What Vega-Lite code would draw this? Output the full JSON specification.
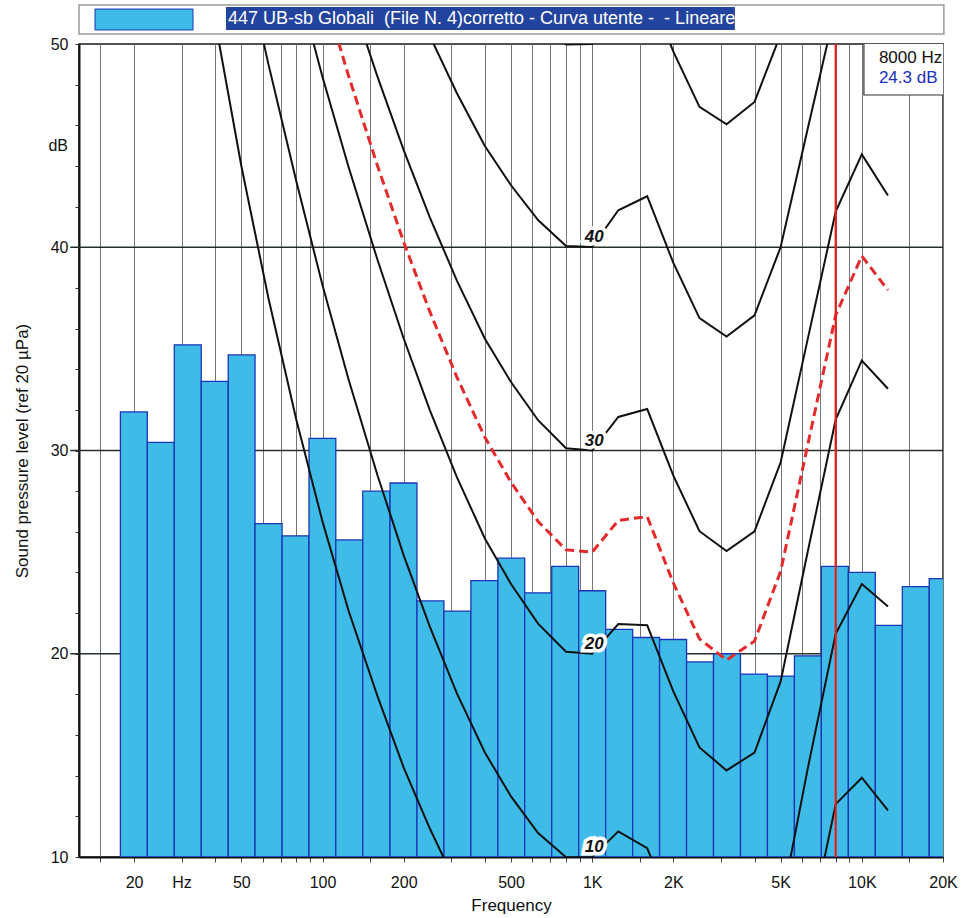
{
  "$schema": "https://vega.github.io/schema/vega-lite/v6.json",
  "width": 864,
  "height": 813,
  "autosize": {"type": "none"},
  "padding": {"left": 79, "top": 44, "right": 23, "bottom": 61},
  "background": "white",
  "config": {
    "font": "Liberation Sans",
    "view": {"stroke": "#1a1a1a", "strokeWidth": 1.5}
  },
  "datasets": {
    "hgrid": [{"db": 20}, {"db": 30}, {"db": 40}],
    "units": [{"u": "dB", "db": 45}],
    "bands": [
      {"f": 20, "lo": 17.8, "hi": 22.4, "db": 31.9},
      {"f": 25, "lo": 22.4, "hi": 28.2, "db": 30.4},
      {"f": 31.5, "lo": 28.2, "hi": 35.5, "db": 35.2},
      {"f": 40, "lo": 35.5, "hi": 44.7, "db": 33.4},
      {"f": 50, "lo": 44.7, "hi": 56.2, "db": 34.7},
      {"f": 63, "lo": 56.2, "hi": 70.8, "db": 26.4},
      {"f": 80, "lo": 70.8, "hi": 89.1, "db": 25.8},
      {"f": 100, "lo": 89.1, "hi": 112, "db": 30.6},
      {"f": 125, "lo": 112, "hi": 141, "db": 25.6},
      {"f": 160, "lo": 141, "hi": 178, "db": 28.0},
      {"f": 200, "lo": 178, "hi": 224, "db": 28.4},
      {"f": 250, "lo": 224, "hi": 282, "db": 22.6},
      {"f": 315, "lo": 282, "hi": 355, "db": 22.1},
      {"f": 400, "lo": 355, "hi": 447, "db": 23.6},
      {"f": 500, "lo": 447, "hi": 562, "db": 24.7},
      {"f": 630, "lo": 562, "hi": 708, "db": 23.0},
      {"f": 800, "lo": 708, "hi": 891, "db": 24.3},
      {"f": 1000, "lo": 891, "hi": 1122, "db": 23.1},
      {"f": 1250, "lo": 1122, "hi": 1413, "db": 21.2},
      {"f": 1600, "lo": 1413, "hi": 1778, "db": 20.8},
      {"f": 2000, "lo": 1778, "hi": 2239, "db": 20.7},
      {"f": 2500, "lo": 2239, "hi": 2818, "db": 19.6},
      {"f": 3150, "lo": 2818, "hi": 3548, "db": 20.0},
      {"f": 4000, "lo": 3548, "hi": 4467, "db": 19.0},
      {"f": 5000, "lo": 4467, "hi": 5623, "db": 18.9},
      {"f": 6300, "lo": 5623, "hi": 7079, "db": 19.9},
      {"f": 8000, "lo": 7079, "hi": 8913, "db": 24.3},
      {"f": 10000, "lo": 8913, "hi": 11220, "db": 24.0},
      {"f": 12500, "lo": 11220, "hi": 14130, "db": 21.4},
      {"f": 16000, "lo": 14130, "hi": 17780, "db": 23.3},
      {"f": 20000, "lo": 17780, "hi": 22390, "db": 23.7}
    ],
    "black": [
      {"curve": "Tf", "f": 40, "db": 51.1}, {"curve": "Tf", "f": 50, "db": 44.0}, {"curve": "Tf", "f": 63, "db": 37.5}, {"curve": "Tf", "f": 80, "db": 31.5}, {"curve": "Tf", "f": 100, "db": 26.5}, {"curve": "Tf", "f": 125, "db": 22.1}, {"curve": "Tf", "f": 160, "db": 17.9}, {"curve": "Tf", "f": 200, "db": 14.4}, {"curve": "Tf", "f": 250, "db": 11.4}, {"curve": "Tf", "f": 315, "db": 8.6}, {"curve": "Tf", "f": 400, "db": 6.2}, {"curve": "Tf", "f": 500, "db": 4.4}, {"curve": "Tf", "f": 630, "db": 3.0}, {"curve": "Tf", "f": 800, "db": 2.2}, {"curve": "Tf", "f": 1000, "db": 2.4}, {"curve": "Tf", "f": 1250, "db": 3.5}, {"curve": "Tf", "f": 1600, "db": 1.7}, {"curve": "Tf", "f": 2000, "db": -1.3}, {"curve": "Tf", "f": 2500, "db": -4.2}, {"curve": "Tf", "f": 3150, "db": -6.0}, {"curve": "Tf", "f": 4000, "db": -5.4}, {"curve": "Tf", "f": 5000, "db": -1.5}, {"curve": "Tf", "f": 6300, "db": 6.0}, {"curve": "Tf", "f": 8000, "db": 12.6}, {"curve": "Tf", "f": 10000, "db": 13.9}, {"curve": "Tf", "f": 12500, "db": 12.3},
      {"curve": "10", "f": 50, "db": 54.96}, {"curve": "10", "f": 63, "db": 49.01}, {"curve": "10", "f": 80, "db": 43.24}, {"curve": "10", "f": 100, "db": 38.13}, {"curve": "10", "f": 125, "db": 33.48}, {"curve": "10", "f": 160, "db": 28.77}, {"curve": "10", "f": 200, "db": 24.84}, {"curve": "10", "f": 250, "db": 21.33}, {"curve": "10", "f": 315, "db": 18.05}, {"curve": "10", "f": 400, "db": 15.14}, {"curve": "10", "f": 500, "db": 12.98}, {"curve": "10", "f": 630, "db": 11.18}, {"curve": "10", "f": 800, "db": 9.99}, {"curve": "10", "f": 1000, "db": 10.0}, {"curve": "10", "f": 1250, "db": 11.26}, {"curve": "10", "f": 1600, "db": 10.43}, {"curve": "10", "f": 2000, "db": 7.27}, {"curve": "10", "f": 2500, "db": 4.45}, {"curve": "10", "f": 3150, "db": 3.04}, {"curve": "10", "f": 4000, "db": 3.8}, {"curve": "10", "f": 5000, "db": 7.46}, {"curve": "10", "f": 6300, "db": 14.35}, {"curve": "10", "f": 8000, "db": 20.98}, {"curve": "10", "f": 10000, "db": 23.43}, {"curve": "10", "f": 12500, "db": 22.33},
      {"curve": "20", "f": 80, "db": 53.19}, {"curve": "20", "f": 100, "db": 48.38}, {"curve": "20", "f": 125, "db": 43.94}, {"curve": "20", "f": 160, "db": 39.37}, {"curve": "20", "f": 200, "db": 35.51}, {"curve": "20", "f": 250, "db": 31.99}, {"curve": "20", "f": 315, "db": 28.69}, {"curve": "20", "f": 400, "db": 25.67}, {"curve": "20", "f": 500, "db": 23.43}, {"curve": "20", "f": 630, "db": 21.48}, {"curve": "20", "f": 800, "db": 20.1}, {"curve": "20", "f": 1000, "db": 20.0}, {"curve": "20", "f": 1250, "db": 21.46}, {"curve": "20", "f": 1600, "db": 21.4}, {"curve": "20", "f": 2000, "db": 18.15}, {"curve": "20", "f": 2500, "db": 15.39}, {"curve": "20", "f": 3150, "db": 14.26}, {"curve": "20", "f": 4000, "db": 15.14}, {"curve": "20", "f": 5000, "db": 18.64}, {"curve": "20", "f": 6300, "db": 25.02}, {"curve": "20", "f": 8000, "db": 31.52}, {"curve": "20", "f": 10000, "db": 34.43}, {"curve": "20", "f": 12500, "db": 33.04},
      {"curve": "30", "f": 125, "db": 52.64}, {"curve": "30", "f": 160, "db": 48.38}, {"curve": "30", "f": 200, "db": 44.78}, {"curve": "30", "f": 250, "db": 41.47}, {"curve": "30", "f": 315, "db": 38.36}, {"curve": "30", "f": 400, "db": 35.5}, {"curve": "30", "f": 500, "db": 33.37}, {"curve": "30", "f": 630, "db": 31.49}, {"curve": "30", "f": 800, "db": 30.11}, {"curve": "30", "f": 1000, "db": 30.0}, {"curve": "30", "f": 1250, "db": 31.65}, {"curve": "30", "f": 1600, "db": 32.04}, {"curve": "30", "f": 2000, "db": 28.76}, {"curve": "30", "f": 2500, "db": 26.03}, {"curve": "30", "f": 3150, "db": 25.05}, {"curve": "30", "f": 4000, "db": 26.02}, {"curve": "30", "f": 5000, "db": 29.42}, {"curve": "30", "f": 6300, "db": 35.48}, {"curve": "30", "f": 8000, "db": 41.75}, {"curve": "30", "f": 10000, "db": 44.57}, {"curve": "30", "f": 12500, "db": 42.55},
      {"curve": "40", "f": 250, "db": 50.4}, {"curve": "40", "f": 315, "db": 47.58}, {"curve": "40", "f": 400, "db": 44.98}, {"curve": "40", "f": 500, "db": 43.05}, {"curve": "40", "f": 630, "db": 41.34}, {"curve": "40", "f": 800, "db": 40.06}, {"curve": "40", "f": 1000, "db": 40.01}, {"curve": "40", "f": 1250, "db": 41.82}, {"curve": "40", "f": 1600, "db": 42.51}, {"curve": "40", "f": 2000, "db": 39.23}, {"curve": "40", "f": 2500, "db": 36.51}, {"curve": "40", "f": 3150, "db": 35.61}, {"curve": "40", "f": 4000, "db": 36.65}, {"curve": "40", "f": 5000, "db": 40.01}, {"curve": "40", "f": 6300, "db": 45.83}, {"curve": "40", "f": 8000, "db": 51.8}, {"curve": "40", "f": 10000, "db": 54.28}, {"curve": "40", "f": 12500, "db": 51.49},
      {"curve": "50", "f": 500, "db": 52.59}, {"curve": "50", "f": 630, "db": 51.1}, {"curve": "50", "f": 800, "db": 49.98}, {"curve": "50", "f": 1000, "db": 50.0}, {"curve": "50", "f": 1250, "db": 51.99}, {"curve": "50", "f": 1600, "db": 52.88}, {"curve": "50", "f": 2000, "db": 49.62}, {"curve": "50", "f": 2500, "db": 46.91}, {"curve": "50", "f": 3150, "db": 46.05}, {"curve": "50", "f": 4000, "db": 47.15}, {"curve": "50", "f": 5000, "db": 50.48}, {"curve": "50", "f": 6300, "db": 56.11}
    ],
    "red": [
      {"f": 100, "db": 52.71}, {"f": 125, "db": 48.42}, {"f": 160, "db": 44.0}, {"f": 200, "db": 40.26}, {"f": 250, "db": 36.83}, {"f": 315, "db": 33.61}, {"f": 400, "db": 30.65}, {"f": 500, "db": 28.44}, {"f": 630, "db": 26.51}, {"f": 800, "db": 25.11}, {"f": 1000, "db": 25.0}, {"f": 1250, "db": 26.56}, {"f": 1600, "db": 26.75}, {"f": 2000, "db": 23.48}, {"f": 2500, "db": 20.73}, {"f": 3150, "db": 19.69}, {"f": 4000, "db": 20.62}, {"f": 5000, "db": 24.06}, {"f": 6300, "db": 30.27}, {"f": 8000, "db": 36.66}, {"f": 10000, "db": 39.57}, {"f": 12500, "db": 37.89}
    ],
    "labels": [
      {"t": "10", "f": 1000, "db": 10},
      {"t": "20", "f": 1000, "db": 20},
      {"t": "30", "f": 1000, "db": 30},
      {"t": "40", "f": 1000, "db": 40}
    ],
    "cursor": [
      {"f": 8000, "db": 24.3, "hz": "8000 Hz", "lv": "24.3 dB"}
    ],
    "legend": [
      {"name": "447 UB-sb Globali \u00a0(File N. 4)corretto - Curva utente - \u00a0- Lineare"}
    ]
  },
  "layer": [
    {
      "data": {"name": "hgrid"},
      "mark": {"type": "rule", "color": "#253025", "strokeWidth": 1.6},
      "encoding": {
        "x": {"datum": 11.6, "type": "quantitative", "scale": {"type": "log", "domain": [12.5, 20000], "nice": false}},
        "x2": {"datum": 20000},
        "y": {"field": "db", "type": "quantitative", "scale": {"domain": [10, 50], "nice": false, "zero": false}}
      }
    },
    {
      "data": {"name": "bands"},
      "mark": {"type": "rect", "fill": "#3FBBE7", "stroke": "#1a35b5", "strokeWidth": 1.3, "clip": true},
      "encoding": {
        "x": {
          "field": "lo", "type": "quantitative",
          "scale": {"type": "log", "domain": [12.5, 20000], "nice": false},
          "axis": {
            "title": "Frequency",
            "values": [15, 20, 30, 40, 50, 60, 70, 80, 90, 100, 150, 200, 300, 400, 500, 600, 700, 800, 900, 1000, 1500, 2000, 3000, 4000, 5000, 6000, 7000, 8000, 9000, 10000, 15000, 20000],
            "tickCount": 100,
            "labelExpr": "datum.value == 20 ? '20' : datum.value == 30 ? '\u00a0\u00a0\u00a0\u00a0Hz' : datum.value == 50 ? '50' : datum.value == 100 ? '100' : datum.value == 200 ? '200' : datum.value == 500 ? '500' : datum.value == 1000 ? '1K' : datum.value == 2000 ? '2K' : datum.value == 5000 ? '5K' : datum.value == 10000 ? '10K' : datum.value == 20000 ? '20K' : ''",
            "grid": true, "gridColor": "#767676", "gridWidth": 1,
            "tickColor": "#444", "tickSize": 5,
            "labelFontSize": 16, "labelColor": "#111", "labelPadding": 12,
            "labelFlush": false, "labelOverlap": false,
            "titleFontSize": 17, "titleFontWeight": "normal", "titleColor": "#111", "titlePadding": 7,
            "domainColor": "#111", "domainWidth": 2
          }
        },
        "x2": {"field": "hi"},
        "y": {
          "field": "db", "type": "quantitative",
          "scale": {"domain": [10, 50], "nice": false, "zero": false},
          "axis": {
            "title": "Sound pressure level (ref 20 µPa)",
            "values": [10, 12, 14, 16, 18, 20, 22, 24, 26, 28, 30, 32, 34, 36, 38, 40, 42, 44, 46, 48, 50],
            "tickCount": 100,
            "labelExpr": "datum.value % 10 == 0 ? '' + datum.value : ''",
            "grid": false,
            "tickColor": "#333", "tickSize": 4,
            "labelFontSize": 16, "labelColor": "#111", "labelPadding": 7,
            "labelOverlap": false,
            "titleFontSize": 17, "titleFontWeight": "normal", "titleColor": "#111", "titlePadding": 19,
            "domainColor": "#111", "domainWidth": 2
          }
        },
        "y2": {"datum": 10}
      }
    },
    {
      "data": {"name": "units"},
      "mark": {"type": "text", "fontSize": 16, "color": "#111", "align": "right", "baseline": "middle", "dx": -11},
      "encoding": {
        "x": {"datum": 12.5, "type": "quantitative", "scale": {"type": "log", "domain": [12.5, 20000], "nice": false}},
        "y": {"field": "db", "type": "quantitative", "scale": {"domain": [10, 50], "nice": false, "zero": false}},
        "text": {"field": "u"}
      }
    },
    {
      "data": {"name": "black"},
      "mark": {"type": "line", "color": "#111111", "strokeWidth": 2, "clip": true},
      "encoding": {
        "x": {"field": "f", "type": "quantitative", "scale": {"type": "log", "domain": [12.5, 20000], "nice": false}},
        "y": {"field": "db", "type": "quantitative", "scale": {"domain": [10, 50], "nice": false, "zero": false}},
        "detail": {"field": "curve"}
      }
    },
    {
      "data": {"name": "red"},
      "mark": {"type": "line", "color": "#e42a2a", "strokeWidth": 3, "strokeDash": [9, 5], "clip": true},
      "encoding": {
        "x": {"field": "f", "type": "quantitative", "scale": {"type": "log", "domain": [12.5, 20000], "nice": false}},
        "y": {"field": "db", "type": "quantitative", "scale": {"domain": [10, 50], "nice": false, "zero": false}}
      }
    },
    {
      "data": {"name": "labels"},
      "mark": {"type": "text", "fontSize": 17, "fontWeight": "bold", "fontStyle": "italic", "stroke": "white", "strokeWidth": 7, "fill": "white", "dy": -10, "dx": 2, "align": "center", "baseline": "middle"},
      "encoding": {
        "x": {"field": "f", "type": "quantitative", "scale": {"type": "log", "domain": [12.5, 20000], "nice": false}},
        "y": {"field": "db", "type": "quantitative", "scale": {"domain": [10, 50], "nice": false, "zero": false}},
        "text": {"field": "t"}
      }
    },
    {
      "data": {"name": "labels"},
      "mark": {"type": "text", "fontSize": 17, "fontWeight": "bold", "fontStyle": "italic", "color": "#111", "dy": -10, "dx": 2, "align": "center", "baseline": "middle"},
      "encoding": {
        "x": {"field": "f", "type": "quantitative", "scale": {"type": "log", "domain": [12.5, 20000], "nice": false}},
        "y": {"field": "db", "type": "quantitative", "scale": {"domain": [10, 50], "nice": false, "zero": false}},
        "text": {"field": "t"}
      }
    },
    {
      "data": {"name": "cursor"},
      "mark": {"type": "rule", "color": "#e3201e", "strokeWidth": 2.2},
      "encoding": {
        "x": {"field": "f", "type": "quantitative", "scale": {"type": "log", "domain": [12.5, 20000], "nice": false}}
      }
    },
    {
      "data": {"name": "cursor"},
      "mark": {"type": "rect", "fill": "white", "stroke": "#333", "strokeWidth": 1.2, "clip": true},
      "encoding": {
        "x": {"datum": 10180, "type": "quantitative", "scale": {"type": "log", "domain": [12.5, 20000], "nice": false}},
        "x2": {"datum": 20150},
        "y": {"datum": 50.2, "type": "quantitative", "scale": {"domain": [10, 50], "nice": false, "zero": false}},
        "y2": {"datum": 47.49}
      }
    },
    {
      "data": {"name": "cursor"},
      "mark": {"type": "text", "fontSize": 17, "color": "#111", "align": "left", "baseline": "middle", "clip": true},
      "encoding": {
        "x": {"datum": 11568, "type": "quantitative", "scale": {"type": "log", "domain": [12.5, 20000], "nice": false}},
        "y": {"datum": 49.31, "type": "quantitative", "scale": {"domain": [10, 50], "nice": false, "zero": false}},
        "text": {"field": "hz"}
      }
    },
    {
      "data": {"name": "cursor"},
      "mark": {"type": "text", "fontSize": 17, "color": "#2030c0", "align": "left", "baseline": "middle", "clip": true},
      "encoding": {
        "x": {"datum": 11568, "type": "quantitative", "scale": {"type": "log", "domain": [12.5, 20000], "nice": false}},
        "y": {"datum": 48.33, "type": "quantitative", "scale": {"domain": [10, 50], "nice": false, "zero": false}},
        "text": {"field": "lv"}
      }
    },
    {
      "data": {"name": "legend"},
      "mark": {"type": "rect", "fill": "white", "stroke": "#9a9a9a", "strokeWidth": 1.5},
      "encoding": {
        "x": {"datum": 12.5, "type": "quantitative", "scale": {"type": "log", "domain": [12.5, 20000], "nice": false}},
        "x2": {"datum": 20150},
        "y": {"datum": 51.92, "type": "quantitative", "scale": {"domain": [10, 50], "nice": false, "zero": false}},
        "y2": {"datum": 50.49}
      }
    },
    {
      "data": {"name": "legend"},
      "mark": {"type": "rect", "fill": "#3FBBE7", "stroke": "#1a35b5", "strokeWidth": 1},
      "encoding": {
        "x": {"datum": 14.33, "type": "quantitative", "scale": {"type": "log", "domain": [12.5, 20000], "nice": false}},
        "x2": {"datum": 33.09},
        "y": {"datum": 51.72, "type": "quantitative", "scale": {"domain": [10, 50], "nice": false, "zero": false}},
        "y2": {"datum": 50.69}
      }
    },
    {
      "data": {"name": "legend"},
      "mark": {"type": "rect", "fill": "#23449e"},
      "encoding": {
        "x": {"datum": 43.85, "type": "quantitative", "scale": {"type": "log", "domain": [12.5, 20000], "nice": false}},
        "x2": {"datum": 3383},
        "y": {"datum": 51.82, "type": "quantitative", "scale": {"domain": [10, 50], "nice": false, "zero": false}},
        "y2": {"datum": 50.69}
      }
    },
    {
      "data": {"name": "legend"},
      "mark": {"type": "text", "fontSize": 18, "color": "white", "align": "left", "baseline": "middle"},
      "encoding": {
        "x": {"datum": 44.6, "type": "quantitative", "scale": {"type": "log", "domain": [12.5, 20000], "nice": false}},
        "y": {"datum": 51.25, "type": "quantitative", "scale": {"domain": [10, 50], "nice": false, "zero": false}},
        "text": {"field": "name"}
      }
    }
  ]
}
